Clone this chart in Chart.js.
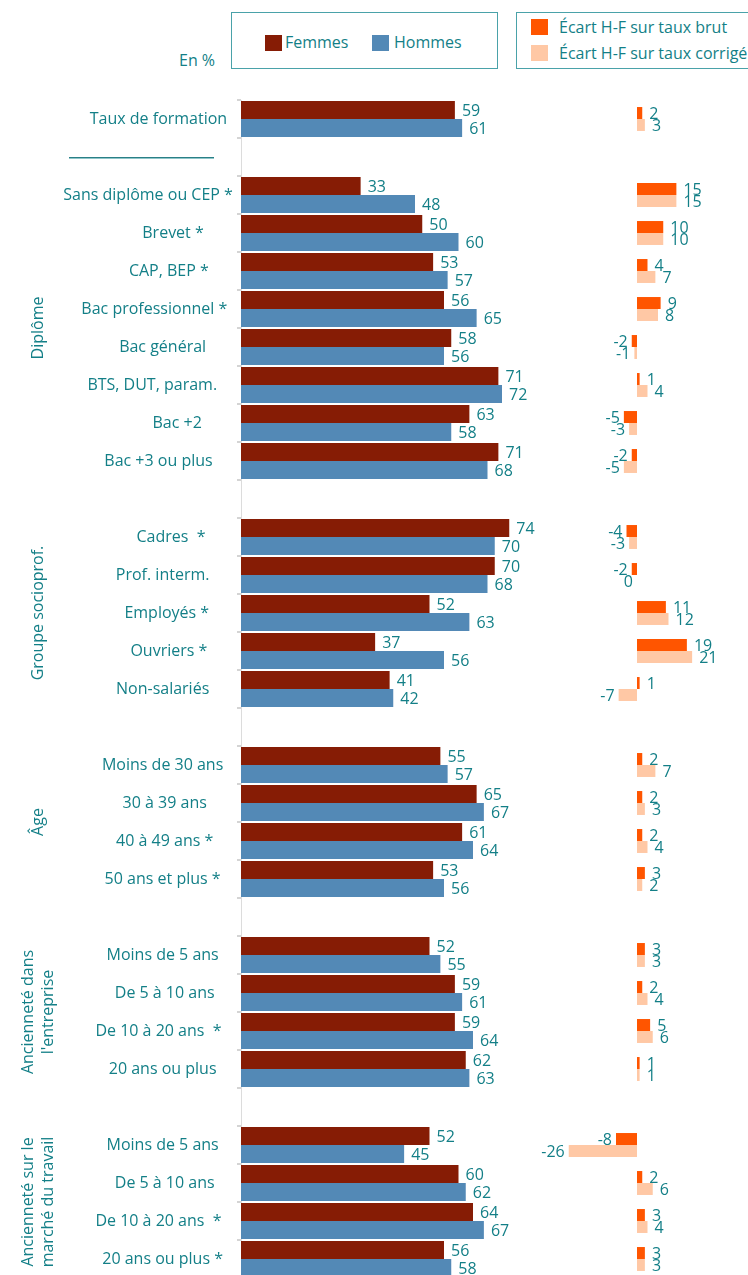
<!DOCTYPE html>
<html lang="fr">
<head>
<meta charset="utf-8">
<title>Taux de formation des femmes et des hommes</title>
<script src="https://cdn.jsdelivr.net/npm/chart.js@4.4.1/dist/chart.umd.min.js"></script>
<style>
  html, body { margin: 0; padding: 0; background: #fff; overflow: hidden; }
  body { position: relative; width: 748px; height: 1275px; font-family: 'Open Sans', sans-serif; color: #137f87; }
  canvas { position: absolute; top: 0; }
  #mainChart { left: 0; }
  #gapChart { left: 532px; }
  .box { position: absolute; top: 12px; height: 57px; border: 1px solid #4aa2a9; box-sizing: border-box; background: #fff; }
  .sw { position: absolute; width: 17px; height: 16px; }
  .lbl { position: absolute; font-size: 16px; line-height: 18px; white-space: nowrap; }
  #unit { position: absolute; left: 179px; top: 51px; font-size: 16px; line-height: 18px; }
  #sep { position: absolute; left: 69px; top: 157px; width: 145px; height: 1px; background: #2a7f86; border-bottom: 1px solid #8fc6ca; }
</style>
</head>
<body>
<div id="unit">En %</div>
<div class="box" style="left:231px; width:267px;">
  <div class="sw" style="left:33px; top:22px; background:#861c05;"></div>
  <div class="lbl" style="left:53px; top:20px;">Femmes</div>
  <div class="sw" style="left:140px; top:22px; background:#5389b6;"></div>
  <div class="lbl" style="left:162px; top:20px;">Hommes</div>
</div>
<div class="box" style="left:516px; width:250px;">
  <div class="sw" style="left:14px; top:6px; background:#ff5500;"></div>
  <div class="lbl" style="left:42px; top:5px;">Écart H-F sur taux brut</div>
  <div class="sw" style="left:14px; top:32px; background:#ffc8a5;"></div>
  <div class="lbl" style="left:42px; top:31px;">Écart H-F sur taux corrigé</div>
</div>
<div id="sep"></div>
<canvas id="mainChart" width="560" height="1280"></canvas>
<canvas id="gapChart" width="210" height="1280"></canvas>
<script>
// categories, one list per group (extra spaces mimic the original label placement)
const topRow = 'Taux de formation  ';
const diplomes = ['Sans diplôme ou CEP *       ', '     Brevet *', '   CAP, BEP *', 'Bac professionnel *    ', 'Bac général', 'BTS, DUT, param.     ', '       Bac +2', 'Bac +3 ou plus  '];
const socioprof = ['    Cadres  *', 'Prof. interm.', '  Employés *', '   Ouvriers *', 'Non-salariés'];
const ages = ['Moins de 30 ans', ' 30 à 39 ans', ' 40 à 49 ans *', '50 ans et plus *'];
const ancEntreprise = ['Moins de 5 ans', ' De 5 à 10 ans', 'De 10 à 20 ans  *  ', '20 ans ou plus'];
const ancMarche = ['Moins de 5 ans', ' De 5 à 10 ans', 'De 10 à 20 ans  *  ', '20 ans ou plus *'];
const groupTitles = [['Diplôme'], ['Groupe socioprof.'], ['Âge'], ['Ancienneté dans', "l'entreprise"], ['Ancienneté sur le', 'marché du travail']];

// values, aligned on the rows (null = blank spacer row between groups)
const femmes  = [59, null, 33, 50, 53, 56, 58, 71, 63, 71, null, 74, 70, 52, 37, 41, null, 55, 65, 61, 53, null, 52, 59, 59, 62, null, 52, 60, 64, 56];
const hommes  = [61, null, 48, 60, 57, 65, 56, 72, 58, 68, null, 70, 68, 63, 56, 42, null, 57, 67, 64, 56, null, 55, 61, 64, 63, null, 45, 62, 67, 58];
const ecartBrut    = [2, null, 15, 10, 4, 9, -2, 1, -5, -2, null, -4, -2, 11, 19, 1, null, 2, 2, 2, 3, null, 3, 2, 5, 1, null, -8, 2, 3, 3];
const ecartCorrige = [3, null, 15, 10, 7, 8, -1, 4, -3, -5, null, -3, 0, 12, 21, -7, null, 7, 3, 4, 2, null, 3, 4, 6, 1, null, -26, 6, 4, 3];

const TEAL = '#137f87';
const FONT = "'Open Sans', sans-serif";

// build the row list and remember where each group sits
const groups = [diplomes, socioprof, ages, ancEntreprise, ancMarche];
const categories = [topRow];
const groupRange = [];
groups.forEach(g => {
  categories.push('');
  groupRange.push([categories.length, categories.length + g.length - 1]);
  categories.push(...g);
});

const valueLabels = {
  id: 'valueLabels',
  afterDatasetsDraw(chart) {
    const ctx = chart.ctx;
    ctx.save();
    ctx.font = '16px ' + FONT;
    ctx.fillStyle = TEAL;
    ctx.textBaseline = 'middle';
    chart.data.datasets.forEach((ds, di) => {
      chart.getDatasetMeta(di).data.forEach((bar, i) => {
        const v = ds.data[i];
        if (v === null || v === undefined) return;
        const left = v <= 0 && chart.canvas.id === 'gapChart';
        ctx.textAlign = left ? 'right' : 'left';
        ctx.fillText(String(v), bar.x + (left ? -4 : 7), bar.y + 1);
      });
    });
    ctx.restore();
  }
};

const groupLabels = {
  id: 'groupLabels',
  afterDraw(chart) {
    const ctx = chart.ctx;
    const y = chart.scales.y;
    ctx.save();
    ctx.font = '16px ' + FONT;
    ctx.fillStyle = TEAL;
    ctx.textAlign = 'center';
    ctx.textBaseline = 'middle';
    groupTitles.forEach((lines, g) => {
      const mid = (y.getPixelForValue(groupRange[g][0]) + y.getPixelForValue(groupRange[g][1])) / 2;
      ctx.save();
      ctx.translate(38, mid);
      ctx.rotate(-Math.PI / 2);
      lines.forEach((t, k) => ctx.fillText(t, 0, (k - (lines.length - 1) / 2) * 20));
      ctx.restore();
    });
    ctx.restore();
  }
};

new Chart(document.getElementById('mainChart'), {
  type: 'bar',
  data: {
    labels: categories,
    datasets: [
      { label: 'Femmes', data: femmes, backgroundColor: '#861c05' },
      { label: 'Hommes', data: hommes, backgroundColor: '#5389b6' }
    ]
  },
  options: {
    indexAxis: 'y',
    responsive: false,
    animation: false,
    categoryPercentage: 0.95,
    barPercentage: 1,
    layout: { padding: { top: 100, bottom: 2, left: 0, right: 0 } },
    plugins: { legend: { display: false }, tooltip: { enabled: false } },
    scales: {
      x: { display: false, min: 0, max: 88 },
      y: {
        afterFit(scale) { scale.width = 241; },
        grid: { drawOnChartArea: false, drawTicks: true, tickLength: 4, lineWidth: 2, color: '#d4d4d4' },
        border: { display: true, color: '#dcdcdc', width: 1 },
        ticks: { autoSkip: false, color: TEAL, font: { family: FONT, size: 16 }, crossAlign: 'center', padding: -25 }
      }
    }
  },
  plugins: [valueLabels, groupLabels]
});

new Chart(document.getElementById('gapChart'), {
  type: 'bar',
  data: {
    labels: categories,
    datasets: [
      { label: 'Écart H-F sur taux brut', data: ecartBrut, backgroundColor: '#ff5500' },
      { label: 'Écart H-F sur taux corrigé', data: ecartCorrige, backgroundColor: '#ffc8a5' }
    ]
  },
  options: {
    indexAxis: 'y',
    responsive: false,
    animation: false,
    categoryPercentage: 0.63,
    barPercentage: 1,
    layout: { padding: { top: 100, bottom: 2, left: 0, right: 0 } },
    plugins: { legend: { display: false }, tooltip: { enabled: false } },
    scales: {
      x: { display: false, min: -40, max: 40 },
      y: { display: false }
    }
  },
  plugins: [valueLabels]
});
</script>
</body>
</html>
